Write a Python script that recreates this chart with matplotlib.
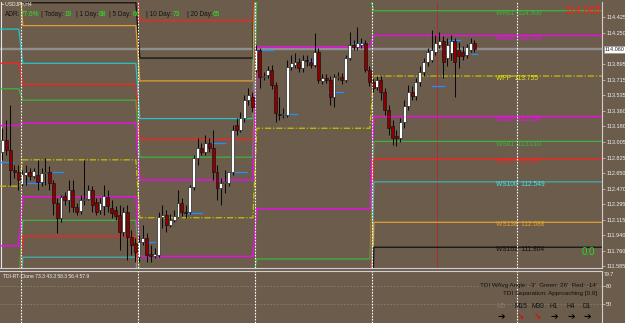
import matplotlib
matplotlib.use("Agg")
import matplotlib.pyplot as plt
import matplotlib.transforms as mtransforms
import numpy as np

plt.rcParams['font.family'] = ['Liberation Sans', 'DejaVu Sans']

# USDJPY H4 candles, oldest first
opens = [112.89, 113.03, 112.91, 112.68, 112.66,
         112.52, 112.63, 112.66, 112.62, 112.63, 112.55, 112.65, 112.66, 112.54, 112.31,
         112.14, 112.39, 112.34, 112.46, 112.26, 112.22, 112.34, 112.35, 112.46, 112.32,
         112.23, 112.27, 112.38, 112.25, 112.23, 112.17, 111.98, 112.21, 111.92, 111.85,
         111.69, 111.86, 111.91, 111.73, 111.70, 111.72, 112.15, 112.17, 112.06, 112.11,
         112.15, 112.31, 112.21, 112.21, 112.49, 112.82, 112.94, 112.89, 112.99, 112.94,
         112.66, 112.48, 112.54, 112.54, 112.66, 113.20, 113.14, 113.28, 113.48, 113.52,
         113.82, 114.05, 113.74, 113.77, 113.82, 113.65, 113.32, 113.31, 113.31, 113.86,
         113.88, 113.92, 113.85, 113.94, 113.92, 113.88, 114.03, 113.70, 113.73, 113.71,
         113.52, 113.74, 113.74, 113.71, 113.96, 114.11, 114.09, 114.11, 114.13, 113.82,
         113.69, 113.63, 113.71, 113.57, 113.37, 113.19, 113.07, 113.05, 113.23, 113.41,
         113.57, 113.53, 113.69, 113.80, 113.92, 113.94, 114.03, 114.11, 114.15, 113.96,
         114.02, 114.15, 114.05, 114.03, 113.99, 114.05, 114.13]
highs = [113.16, 113.25, 113.43, 112.74, 112.74,
         112.68, 112.74, 112.71, 112.71, 112.80, 112.71, 112.82, 112.73, 112.57, 112.37,
         112.40, 112.43, 112.57, 112.57, 112.31, 112.40, 112.80, 112.51, 112.50, 112.37,
         112.37, 112.51, 112.46, 112.34, 112.27, 112.29, 112.26, 112.29, 112.00, 111.91,
         111.94, 112.06, 111.97, 111.83, 111.80, 112.21, 112.29, 112.23, 112.18, 112.23,
         112.46, 112.37, 112.29, 112.51, 112.86, 113.05, 112.99, 113.08, 113.05, 113.14,
         112.74, 112.59, 112.68, 112.62, 113.20, 113.28, 113.35, 113.54, 113.62, 113.57,
         114.11, 114.08, 113.80, 113.87, 113.88, 113.69, 113.52, 113.39, 113.94, 114.00,
         114.02, 113.96, 114.00, 114.00, 113.96, 114.25, 114.08, 113.78, 113.78, 113.76,
         113.78, 113.80, 113.79, 114.00, 114.26, 114.17, 114.31, 114.19, 114.17, 113.87,
         113.73, 113.76, 113.76, 113.62, 113.43, 113.25, 113.14, 113.28, 113.48, 113.65,
         113.64, 113.73, 113.87, 113.96, 114.08, 114.28, 114.22, 114.26, 114.21, 114.19,
         114.22, 114.19, 114.14, 114.10, 114.12, 114.19, 114.17]
lows = [112.80, 112.86, 112.51, 112.59, 112.46,
        112.50, 112.51, 112.57, 112.59, 112.46, 112.50, 112.51, 112.46, 112.17, 111.97,
        112.09, 112.29, 112.21, 112.21, 112.17, 112.18, 112.29, 112.34, 112.21, 112.17,
        112.18, 112.17, 112.21, 112.14, 112.11, 111.77, 111.93, 111.66, 111.72, 111.64,
        111.64, 111.83, 111.64, 111.64, 111.68, 111.69, 112.02, 111.98, 112.03, 112.09,
        112.14, 112.16, 112.14, 112.18, 112.46, 112.74, 112.86, 112.86, 112.89, 112.57,
        112.34, 112.29, 112.42, 112.50, 112.63, 113.08, 113.12, 113.23, 113.43, 113.35,
        113.80, 113.62, 113.71, 113.73, 113.61, 113.23, 113.25, 113.28, 113.29, 113.82,
        113.85, 113.80, 113.80, 113.87, 113.85, 113.86, 113.68, 113.66, 113.68, 113.43,
        113.40, 113.71, 113.66, 113.69, 113.94, 114.05, 114.05, 114.08, 113.80, 113.64,
        113.57, 113.60, 113.48, 113.31, 113.08, 112.97, 112.96, 113.00, 113.16, 113.37,
        113.48, 113.48, 113.64, 113.76, 113.87, 113.92, 114.00, 114.08, 113.73, 113.87,
        113.94, 113.52, 113.85, 113.94, 113.96, 114.03, 114.03]
closes = [113.03, 112.91, 112.68, 112.66, 112.57,
          112.64, 112.66, 112.62, 112.67, 112.55, 112.65, 112.66, 112.54, 112.31, 112.14,
          112.38, 112.34, 112.46, 112.26, 112.21, 112.34, 112.35, 112.46, 112.29, 112.21,
          112.31, 112.39, 112.27, 112.19, 112.16, 111.98, 112.21, 111.92, 111.83, 111.75,
          111.86, 111.91, 111.72, 111.70, 111.73, 112.15, 112.17, 112.06, 112.11, 112.16,
          112.31, 112.21, 112.19, 112.49, 112.82, 112.94, 112.89, 112.99, 112.94, 112.66,
          112.48, 112.54, 112.55, 112.66, 113.14, 113.14, 113.28, 113.48, 113.54, 113.40,
          114.05, 113.74, 113.76, 113.82, 113.65, 113.33, 113.31, 113.32, 113.86, 113.90,
          113.92, 113.85, 113.94, 113.93, 113.88, 114.03, 113.71, 113.73, 113.71, 113.52,
          113.74, 113.76, 113.71, 113.96, 114.11, 114.09, 114.13, 114.13, 113.82, 113.69,
          113.62, 113.71, 113.57, 113.37, 113.16, 113.05, 113.05, 113.23, 113.41, 113.57,
          113.53, 113.69, 113.80, 113.92, 114.03, 114.05, 114.13, 114.15, 113.92, 114.11,
          114.15, 113.92, 113.98, 113.98, 114.09, 114.13, 114.06]

# weekly fibo pivot levels, one value per visible week
week_starts = [5, 35, 65, 95]
wr200 = [116.08, 115.01, 114.39, 117.99, 116.169]
wr161 = [115.40, 114.59, 113.96, 117.07, 115.708]
wr138 = [114.98, 114.33, 113.70, 116.50, 115.423]
wr100 = [114.29, 113.90, 113.27, 115.58, 114.962]
wr78 = [113.90, 113.66, 113.03, 115.07, 114.704]
wr61 = [113.61, 113.48, 112.83, 114.66, 114.500]
wr38 = [113.19, 113.22, 112.57, 114.09, 114.216]
wpp = [112.50, 112.80, 112.14, 113.16, 113.755]
ws38 = [111.82, 112.38, 111.70, 112.24, 113.294]
ws61 = [111.40, 112.11, 111.44, 111.67, 113.010]
ws78 = [111.10, 111.93, 111.25, 111.26, 112.807]
ws100 = [110.71, 111.69, 111.01, 110.75, 112.549]
ws138 = [110.03, 111.27, 110.57, 109.82, 112.088]
ws161 = [109.61, 111.01, 110.31, 109.25, 111.804]

# short blue S/R marks: (first bar, last bar, price)
sr_marks = [(-0.6, 2.7, 112.77), (5.8, 9.6, 112.54), (12.9, 15.5, 112.66),
            (36.6, 39.1, 111.86), (47.3, 51.2, 112.19), (53.7, 57.0, 112.99),
            (58.8, 62.7, 112.66), (65.3, 69.4, 114.05), (72.0, 75.5, 113.32),
            (78.3, 81.4, 113.93), (83.5, 87.3, 113.57), (89.9, 93.0, 114.13),
            (110.1, 113.2, 113.64), (114.0, 117.3, 114.17), (120.4, 121.7, 114.01)]

price_ticks = [114.425, 114.250, 113.895, 113.715, 113.535, 113.360, 113.180,
               113.005, 112.825, 112.650, 112.470, 112.295, 112.115, 111.940,
               111.760, 111.585]
bid = 114.060
day_high = 114.068
cursor_bar = 111.4   # thin red time marker
left_marker_bar = -0.26

adr_names = ['ADR:', '| Today:', '| 1 Day:', '| 5 Day:', '| 10 Day:', '| 20 Day:']
adr_values = ['77.6%', '19', '68', '66', '73', '65']
tf_names = ['M5', 'M15', 'M30', 'H1', 'H4', 'D1']
tf_arrows = ['➔', '➘', '➘', '➔', '➔', '➔']

BG = '#6c5c4c'
W, H = 625, 323


def fx(px):
    return px / W


def fy(py):
    return 1 - py / H


fig = plt.figure(figsize=(6.25, 3.23), dpi=100, facecolor=BG)
ax = fig.add_axes([0, fy(268), fx(602), (268 - 2) / H], facecolor=BG)
ax2 = fig.add_axes([0, 0, fx(602), (H - 271) / H], facecolor=BG)

xmin, xmax = -0.64, 153.7
for a in (ax, ax2):
    a.set_xlim(xmin, xmax)
    a.set_xticks([])
    for s in ('left', 'top'):
        a.spines[s].set_visible(False)
    for s in ('right', 'bottom'):
        a.spines[s].set_color('#d0d0d0')
        a.spines[s].set_linewidth(0.8)
    a.yaxis.tick_right()
    a.tick_params(axis='y', colors='#d0d0d0', labelcolor='#f0f0f0',
                  labelsize=4, length=2, width=0.5, pad=1)
ax2.spines['top'].set_visible(True)
ax2.spines['top'].set_color('#d0d0d0')
ax2.spines['bottom'].set_visible(False)

ax.set_ylim(111.567, 114.599)
ax.set_yticks(price_ticks)
ax.set_yticklabels([f'{p:.3f}' for p in price_ticks])

# bid line and markers
ax.axhline(bid, color='#8e8e8e', lw=1.7, zorder=1)
ax.axvline(cursor_bar, color='#c02020', lw=0.55, zorder=1.5)
ax.axvline(left_marker_bar, color='#e6e6e6', lw=0.8, zorder=1.5)

# pivot levels
levels = [
    ('WR200', wr200, '#ff2020', '-'), ('WR161', wr161, '#101010', '-'),
    ('WR138', wr138, '#e0a030', '-'), ('WR100', wr100, '#20c8c8', '-'),
    ('WR78', wr78, '#ff2020', '-'), ('WR61', wr61, '#3cb43c', '-'),
    ('WR38', wr38, '#ff00ff', '-'), ('WPP', wpp, '#c8c000', (0, (5, 1.5, 1, 1.5))),
    ('WS38', ws38, '#ff00ff', '-'), ('WS61', ws61, '#3cb43c', '-'),
    ('WS78', ws78, '#ff2020', '-'), ('WS100', ws100, '#40b0b0', '-'),
    ('WS138', ws138, '#e0a030', '-'), ('WS161', ws161, '#101010', '-'),
]
label_colors = {'WPP': '#eaea10', 'WS100': '#40e8e8'}
seps = [s - 0.3 for s in week_starts]
for name, vals, col, ls in levels:
    xs, ys = [xmin], [vals[0]]
    for k, s in enumerate(seps):
        xs += [s - 0.5, s + 0.5]
        ys += [vals[k], vals[k + 1]]
    xs.append(xmax)
    ys.append(vals[-1])
    ax.plot(xs, ys, color=col, lw=0.9, ls=ls, zorder=2)
    cur = vals[-1]
    if name != 'WR200' and 111.7 < cur < 114.55:
        ax.text(126.5, cur - 0.03, f'{name}  {cur:.3f}', color=label_colors.get(name, col),
                fontsize=4.8, va='center', ha='left', zorder=6)

# S/R marks
for b0, b1, p in sr_marks:
    ax.plot([b0, b1], [p, p], color='#1e90ff', lw=0.9, zorder=2.5)

# candles
o = np.array(opens)
c = np.array(closes)
bars = np.arange(len(o))
up = c >= o
bottom = np.minimum(o, c)
height = np.maximum(np.abs(c - o), 0.008)
ax.vlines(bars, lows, highs, color='#0a0a0a', lw=0.75, zorder=3)
ax.bar(bars[up], height[up], bottom=bottom[up], width=0.75, color='white',
       edgecolor='#0a0a0a', lw=0.4, zorder=4)
ax.bar(bars[~up], height[~up], bottom=bottom[~up], width=0.75, color='#8b0000',
       edgecolor='#0a0a0a', lw=0.4, zorder=4)

# week separators
for a in (ax, ax2):
    for s in seps + [131.9]:
        a.axvline(s, color='white', lw=0.8, ls=(0, (1.5, 1.2)), zorder=5)

# texts on price panel
blend = mtransforms.blended_transform_factory(ax.transAxes, ax.transData)
ax.text(601 / 602, (268 - 11) / 266, f'{day_high:.3f}', transform=ax.transAxes,
        color='#ff1a1a', fontsize=7.5, ha='right', va='center', zorder=9, clip_on=False)
ax.text(588 / 602, (268 - 252) / 266, '0.0', transform=ax.transAxes,
        color='#22dd22', fontsize=7, ha='center', va='center', zorder=9)
ax.text(1.004, bid, f'{bid:.3f}', transform=blend,
        color='#202020', fontsize=4, ha='left', va='center', clip_on=False, zorder=8,
        bbox=dict(boxstyle='square,pad=0.15', fc='white', ec='#909090', lw=0.4))

fig.text(fx(2), fy(4), '▪ USDJPY,H4', color='#f0f0f0', fontsize=3.6, va='center')
adr_x = [5, 41, 76, 109, 146, 187]
val_x = [21, 65, 99, 133, 173, 213]
for nm, v, x1, x2 in zip(adr_names, adr_values, adr_x, val_x):
    fig.text(fx(x1), fy(14), nm, color='#151515', fontsize=4.7, va='center')
    fig.text(fx(x2), fy(14), v, color='#22ee22', fontsize=4.7, va='center')

# indicator panel
ax2.set_ylim(39.4, 68.3)
ax2.set_yticks([60, 50])
ax2.set_yticklabels(['60', '50'])
for lv in (60, 50):
    ax2.axhline(lv, color='#8a7c6c', lw=0.6, ls=(0, (2, 2)), zorder=1)
fig.text(fx(604), fy(274), '79.7', color='#f0f0f0', fontsize=3.8, va='center')
fig.text(fx(3), fy(276), 'TDI-RT-Clone 73.3 43.3 58.3 56.4 57.9', color='#f0f0f0',
         fontsize=3.6, va='center')
fig.text(fx(597), fy(285), "TDI WAvg Angle: -3'  Green: 26'  Red: -14'", color='#101010',
         fontsize=4.5, ha='right', va='center')
fig.text(fx(597), fy(293), 'TDI Separation: Approaching [0.9]', color='#101010',
         fontsize=4.5, ha='right', va='center')
tf_x = [501, 521, 538, 554, 571, 587]
for nm, arw, x in zip(tf_names, tf_arrows, tf_x):
    fig.text(fx(x), fy(306), nm, color='#8a7a6a' if nm == 'M5' else '#101010',
             fontsize=4.8, ha='center', va='center')
    fig.text(fx(x), fy(317), arw, color='#ee0000' if arw == '➘' else '#000000',
             fontsize=6.5, ha='center', va='center', family='DejaVu Sans', weight='bold')

fig.savefig('out.png', dpi=100, facecolor=BG)
